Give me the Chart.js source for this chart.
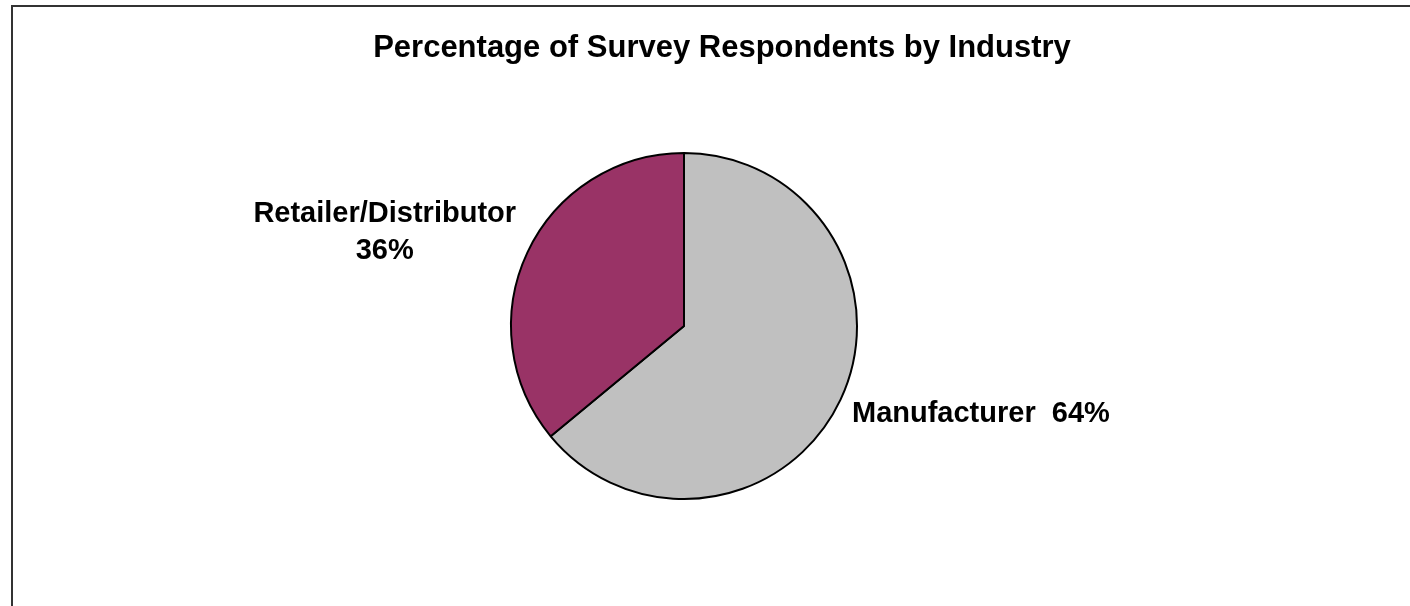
<!DOCTYPE html>
<html>
<head>
<meta charset="utf-8">
<title>Percentage of Survey Respondents by Industry</title>
<script src="https://cdn.jsdelivr.net/npm/chart.js@4.4.1/dist/chart.umd.min.js"></script>
<style>
    html, body { margin: 0; padding: 0; background: #ffffff; overflow: hidden; }
    #wrap { position: relative; width: 1410px; height: 606px; }
</style>
</head>
<body>
<div id="wrap"><canvas id="graphique-industrie" width="1410" height="606"></canvas></div>
<script>
// Données du graphique
const titre = "Percentage of Survey Respondents by Industry";
const categories = ["Manufacturer", "Retailer/Distributor"];
const pourcentages = [64, 36];
const couleurs = ["#C0C0C0", "#993366"];

const policeTitre = "bold 31px 'Liberation Sans', Arial, sans-serif";
const policeEtiquette = "bold 29px 'Liberation Sans', Arial, sans-serif";

// Cadre, titre et étiquettes dessinés autour du camembert
const decorPlugin = {
    id: "decor",
    beforeDraw(chart) {
        const ctx = chart.ctx;
        ctx.save();
        // cadre du graphique (coupé à droite et en bas)
        ctx.strokeStyle = "#333333";
        ctx.lineWidth = 2;
        ctx.beginPath();
        ctx.moveTo(12, chart.height + 5);
        ctx.lineTo(12, 6);
        ctx.lineTo(chart.width + 5, 6);
        ctx.stroke();
        // titre
        ctx.fillStyle = "#000000";
        ctx.font = policeTitre;
        ctx.textAlign = "center";
        ctx.textBaseline = "alphabetic";
        ctx.fillText(titre, 722, 57);
        ctx.restore();
    },
    afterDatasetsDraw(chart) {
        const ctx = chart.ctx;
        const arcs = chart.getDatasetMeta(0).data;
        const cx = arcs[0].x;
        const cy = arcs[0].y;
        const r = arcs[0].outerRadius;
        ctx.save();
        ctx.fillStyle = "#000000";
        ctx.font = policeEtiquette;
        ctx.textBaseline = "alphabetic";
        // Manufacturer à droite, sur une ligne
        ctx.textAlign = "left";
        ctx.fillText(categories[0] + "  " + pourcentages[0] + "%", cx + r * 0.971, cy + r * 0.555);
        // Retailer/Distributor à gauche, sur deux lignes
        ctx.textAlign = "center";
        ctx.fillText(categories[1], cx - r * 1.73, cy - r * 0.603);
        ctx.fillText(pourcentages[1] + "%", cx - r * 1.73, cy - r * 0.39);
        ctx.restore();
    }
};

const config = {
    type: "pie",
    data: {
        labels: categories,
        datasets: [{
            data: pourcentages,
            backgroundColor: couleurs,
            borderColor: "#000000",
            borderWidth: 2
        }]
    },
    options: {
        responsive: false,
        animation: false,
        layout: {
            padding: { left: 510, right: 552, top: 152, bottom: 106 }
        },
        plugins: {
            legend: { display: false },
            title: { display: false },
            tooltip: { enabled: false }
        }
    },
    plugins: [decorPlugin]
};

new Chart(document.querySelector("#graphique-industrie"), config);
</script>
</body>
</html>
